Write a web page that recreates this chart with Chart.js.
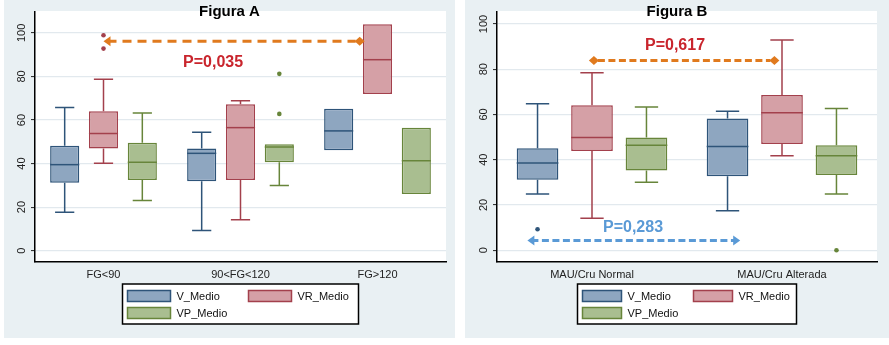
<!DOCTYPE html>
<html>
<head>
<meta charset="utf-8">
<script src="https://cdn.jsdelivr.net/npm/chart.js@4/dist/chart.umd.min.js"></script>
<style>
  html, body { margin: 0; padding: 0; background: #ffffff; }
  body { width: 889px; height: 345px; position: relative; overflow: hidden; font-family: "Liberation Sans", Arial, sans-serif; }
  .panel { position: absolute; top: 0; height: 338px; background: #e9f0f3; }
  #panelA { left: 4px; width: 451px; }
  #panelB { left: 465px; width: 424px; }
  canvas { display: block; }
</style>
</head>
<body>
<div class="panel" id="panelA"><canvas id="chartA" width="451" height="338"></canvas></div>
<div class="panel" id="panelB"><canvas id="chartB" width="424" height="338"></canvas></div>
<script>
// ---------------- DATA ----------------
const seriesNames = ['V_Medio', 'VR_Medio', 'VP_Medio'];
const yTicks = [0, 20, 40, 60, 80, 100];

// Figura A
const catsA = ['FG<90', '90<FG<120', 'FG>120'];
const A_V_q1  = [31.2, 31.9, 46.1];
const A_V_med = [39.5, 44.7, 55.0];
const A_V_q3  = [48.2, 46.9, 65.2];
const A_V_lo  = [17.6, 9.3, null];
const A_V_hi  = [65.8, 54.4, null];
const A_V_out = [[], [], []];

const A_VR_q1  = [46.9, 32.5, 72.0];
const A_VR_med = [53.8, 56.5, 87.7];
const A_VR_q3  = [64.0, 67.2, 104.0];
const A_VR_lo  = [40.1, 14.2, null];
const A_VR_hi  = [78.7, 68.8, null];
const A_VR_out = [[98.9, 92.8], [], []];

const A_VP_q1  = [32.5, 40.6, 26.0];
const A_VP_med = [40.6, 47.6, 41.3];
const A_VP_q3  = [49.6, 48.9, 56.5];
const A_VP_lo  = [23.0, 29.9, null];
const A_VP_hi  = [63.2, null, null];
const A_VP_out = [[], [81.2, 62.8], []];

const A_arrow = { from: 0, to: 1.87, y: 96.2 };
const A_pText = { label: 'P=0,035', x: 0.80, y: 86.5 };

// Figura B
const catsB = ['MAU/Cru Normal', 'MAU/Cru Alterada'];
const B_V_q1  = [31.2, 32.7];
const B_V_med = [38.6, 45.8];
const B_V_q3  = [45.1, 58.2];
const B_V_lo  = [24.9, 17.5];
const B_V_hi  = [64.8, 61.4];
const B_V_out = [[9.3], []];

const B_VR_q1  = [43.9, 47.0];
const B_VR_med = [49.8, 60.8];
const B_VR_q3  = [64.1, 68.6];
const B_VR_lo  = [14.1, 41.8];
const B_VR_hi  = [78.5, 92.9];
const B_VR_out = [[], []];

const B_VP_q1  = [35.2, 33.3];
const B_VP_med = [46.4, 41.8];
const B_VP_q3  = [49.8, 46.4];
const B_VP_lo  = [30.0, 24.9];
const B_VP_hi  = [63.3, 62.7];
const B_VP_out = [[], [0]];

const B_arrowOrange = { from: 0.01, to: 0.96, y: 83.9 };
const B_arrowBlue   = { from: -0.34, to: 0.78, y: 4.3 };
const B_pTextRed  = { label: 'P=0,617', x: 0.437, y: 90.6 };
const B_pTextBlue = { label: 'P=0,283', x: 0.216, y: 9.9 };

// ---------------- STYLE ----------------
const fills   = ['#8ea6c0', '#d5a0a6', '#a9be90'];
const borders = ['#2e5479', '#a3404c', '#67853a'];
const ORANGE = '#e07a1e';
const RED = '#c9252d';
const BLUE = '#5a9ad6';
const FONT = '"Liberation Sans", Arial, sans-serif';

function makePanel(canvasId, spec) {
  const datasets = spec.series.map((s, i) => ({
    label: seriesNames[i],
    data: s.q1.map((v, j) => [v, s.q3[j]]),
    backgroundColor: fills[i],
    borderColor: borders[i],
    borderWidth: 1.5,
    borderSkipped: false,
    categoryPercentage: spec.catPct,
    barPercentage: spec.barPct
  }));

  const extras = {
    id: 'extras_' + canvasId,
    beforeDraw(chart) {
      const { ctx, chartArea: a } = chart;
      ctx.save();
      ctx.fillStyle = '#ffffff';
      ctx.fillRect(a.left, a.top - 1, a.right - a.left, a.bottom - a.top + 1);
      ctx.restore();
    },
    afterDatasetsDraw(chart) {
      const { ctx } = chart;
      const ys = chart.scales.y, xs = chart.scales.x;
      ctx.save();
      spec.series.forEach((s, i) => {
        const meta = chart.getDatasetMeta(i);
        meta.data.forEach((el, j) => {
          const x = el.x, w = el.width;
          const left = x - w / 2, right = x + w / 2;
          ctx.strokeStyle = borders[i];
          ctx.lineWidth = 1.5;
          ctx.setLineDash([]);
          // median
          const ym = ys.getPixelForValue(s.med[j]);
          ctx.beginPath(); ctx.moveTo(left, ym); ctx.lineTo(right, ym); ctx.stroke();
          const cap = w * spec.capFrac / 2;
          if (s.hi[j] !== null) {
            const yq3 = ys.getPixelForValue(s.q3[j]);
            const yh = ys.getPixelForValue(s.hi[j]);
            ctx.beginPath(); ctx.moveTo(x, yq3); ctx.lineTo(x, yh);
            ctx.moveTo(x - cap, yh); ctx.lineTo(x + cap, yh); ctx.stroke();
          }
          if (s.lo[j] !== null) {
            const yq1 = ys.getPixelForValue(s.q1[j]);
            const yl = ys.getPixelForValue(s.lo[j]);
            ctx.beginPath(); ctx.moveTo(x, yq1); ctx.lineTo(x, yl);
            ctx.moveTo(x - cap, yl); ctx.lineTo(x + cap, yl); ctx.stroke();
          }
          ctx.fillStyle = borders[i];
          (s.out[j] || []).forEach(v => {
            const yo = ys.getPixelForValue(v);
            ctx.beginPath(); ctx.arc(x, yo, 2.3, 0, Math.PI * 2); ctx.fill();
          });
        });
      });

      // arrows
      spec.arrows.forEach(ar => {
        const x1 = xs.getPixelForValue(ar.from), x2 = xs.getPixelForValue(ar.to);
        const y = ys.getPixelForValue(ar.y);
        ctx.strokeStyle = ar.color; ctx.fillStyle = ar.color;
        ctx.lineWidth = 3;
        ctx.setLineDash(ar.dash);
        ctx.beginPath(); ctx.moveTo(x1 + 4, y); ctx.lineTo(x2 - 4, y); ctx.stroke();
        ctx.setLineDash([]);
        drawHead(ctx, x1, y, ar.startHead);
        drawHead(ctx, x2, y, ar.endHead);
      });

      // p labels
      spec.texts.forEach(t => {
        ctx.fillStyle = t.color;
        ctx.font = 'bold 16px ' + FONT;
        ctx.textAlign = 'center';
        ctx.textBaseline = 'middle';
        ctx.fillText(t.label, xs.getPixelForValue(t.x), ys.getPixelForValue(t.y));
      });
      ctx.restore();
    },
    afterDraw(chart) {
      const { ctx, chartArea: a } = chart;
      const ys = chart.scales.y;
      ctx.save();
      // y tick labels rotated
      ctx.fillStyle = '#222';
      ctx.font = '11px ' + FONT;
      ctx.textAlign = 'center';
      ctx.textBaseline = 'middle';
      yTicks.forEach(v => {
        const y = ys.getPixelForValue(v);
        ctx.save();
        ctx.translate(a.left - 13, y);
        ctx.rotate(-Math.PI / 2);
        ctx.fillText(String(v), 0, 0);
        ctx.restore();
      });
      // title
      ctx.fillStyle = '#000';
      ctx.font = 'bold 15px ' + FONT;
      ctx.textAlign = 'center';
      ctx.textBaseline = 'alphabetic';
      ctx.fillText(spec.title, chart.width / 2, 16);
      // legend
      const L = spec.legend;
      const bx = (a.left + a.right) / 2 - L.w / 2, by = a.bottom + 22;
      ctx.fillStyle = '#fff';
      ctx.fillRect(bx, by, L.w, 40);
      ctx.strokeStyle = '#000';
      ctx.lineWidth = 1.5;
      ctx.strokeRect(bx, by, L.w, 40);
      const pos = [[L.c1, 12], [L.c2, 12], [L.c1, 29]];
      ctx.font = '11px ' + FONT;
      ctx.textAlign = 'left';
      ctx.textBaseline = 'middle';
      chart.data.datasets.forEach((ds, i) => {
        const sx = bx + pos[i][0], sy = by + pos[i][1];
        ctx.fillStyle = fills[i];
        ctx.fillRect(sx, sy - 5.5, L.sw, 11);
        ctx.strokeStyle = borders[i];
        ctx.lineWidth = 1.5;
        ctx.strokeRect(sx, sy - 5.5, L.sw, 11);
        ctx.fillStyle = '#111';
        ctx.fillText(ds.label, sx + L.sw + 6, sy + 0.5);
      });
      ctx.restore();
    }
  };

  return new Chart(document.getElementById(canvasId), {
    type: 'bar',
    data: { labels: spec.cats, datasets },
    options: {
      responsive: false,
      animation: false,
      devicePixelRatio: 1,
      layout: { padding: { top: 12, right: spec.padRight, left: 0, bottom: 0 } },
      plugins: { legend: { display: false }, tooltip: { enabled: false }, title: { display: false } },
      scales: {
        x: {
          type: 'category',
          offset: true,
          grid: { display: false, drawTicks: false },
          border: { display: true, color: '#000', width: 1.5 },
          ticks: { color: '#222', font: { family: FONT, size: 11 }, padding: 6, maxRotation: 0, minRotation: 0 },
          afterFit: s => { s.height = 76; }
        },
        y: {
          min: spec.yMin, max: spec.yMax,
          afterBuildTicks: s => { s.ticks = yTicks.map(v => ({ value: v })); },
          grid: { color: '#e2e9ee', lineWidth: 1.2, drawTicks: true, tickLength: 4, tickColor: '#222', tickWidth: 1 },
          border: { display: true, color: '#000', width: 1.5 },
          ticks: { display: false },
          afterFit: s => { s.width = spec.yWidth; }
        }
      }
    },
    plugins: [extras]
  });
}

function drawHead(ctx, x, y, kind) {
  ctx.beginPath();
  if (kind === 'diamond') {
    ctx.moveTo(x - 5, y); ctx.lineTo(x, y - 4.5); ctx.lineTo(x + 5, y); ctx.lineTo(x, y + 4.5);
  } else if (kind === 'left') {
    ctx.moveTo(x, y); ctx.lineTo(x + 7, y - 5); ctx.lineTo(x + 7, y + 5);
  } else if (kind === 'right') {
    ctx.moveTo(x, y); ctx.lineTo(x - 7, y - 5); ctx.lineTo(x - 7, y + 5);
  }
  ctx.closePath();
  ctx.fill();
}

makePanel('chartA', {
  title: 'Figura A',
  cats: catsA,
  series: [
    { q1: A_V_q1, med: A_V_med, q3: A_V_q3, lo: A_V_lo, hi: A_V_hi, out: A_V_out },
    { q1: A_VR_q1, med: A_VR_med, q3: A_VR_q3, lo: A_VR_lo, hi: A_VR_hi, out: A_VR_out },
    { q1: A_VP_q1, med: A_VP_med, q3: A_VP_q3, lo: A_VP_lo, hi: A_VP_hi, out: A_VP_out }
  ],
  yMin: -5.2, yMax: 109.6, yWidth: 31, padRight: 9,
  catPct: 0.85, barPct: 0.75, capFrac: 0.66,
  arrows: [ { ...A_arrow, color: ORANGE, dash: [9, 6], startHead: 'left', endHead: 'diamond' } ],
  texts: [ { ...A_pText, color: RED } ],
  legend: { w: 236, c1: 5, c2: 126, sw: 43 }
});

makePanel('chartB', {
  title: 'Figura B',
  cats: catsB,
  series: [
    { q1: B_V_q1, med: B_V_med, q3: B_V_q3, lo: B_V_lo, hi: B_V_hi, out: B_V_out },
    { q1: B_VR_q1, med: B_VR_med, q3: B_VR_q3, lo: B_VR_lo, hi: B_VR_hi, out: B_VR_out },
    { q1: B_VP_q1, med: B_VP_med, q3: B_VP_q3, lo: B_VP_lo, hi: B_VP_hi, out: B_VP_out }
  ],
  yMin: -5.2, yMax: 105.3, yWidth: 32, padRight: 12,
  catPct: 0.86, barPct: 0.765, capFrac: 0.56,
  arrows: [
    { ...B_arrowOrange, color: ORANGE, dash: [7, 3.5], startHead: 'diamond', endHead: 'diamond' },
    { ...B_arrowBlue, color: BLUE, dash: [7, 3.5], startHead: 'left', endHead: 'right' }
  ],
  texts: [ { ...B_pTextRed, color: RED }, { ...B_pTextBlue, color: BLUE } ],
  legend: { w: 219, c1: 5, c2: 116, sw: 39 }
});
</script>
</body>
</html>
